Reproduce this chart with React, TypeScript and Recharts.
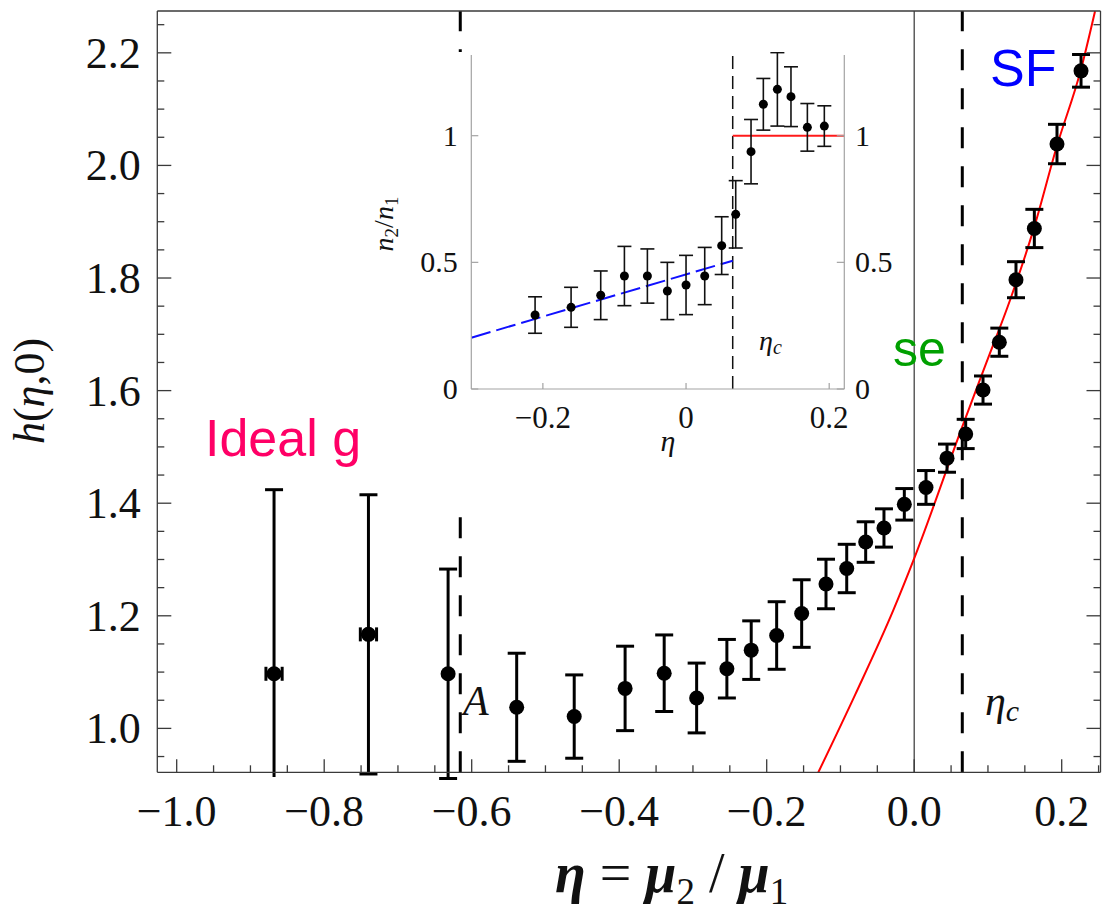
import React from "react";
import {
  ComposedChart,
  Scatter,
  Line,
  XAxis,
  YAxis,
  ErrorBar,
  ReferenceLine,
} from "recharts";

const serif = '"Liberation Serif", "Times New Roman", Times, serif';
const sans = '"Liberation Sans", Arial, Helvetica, sans-serif';

// main panel: h(eta, 0) vs eta
const mainEta = [
  -0.868, -0.74, -0.632, -0.539, -0.461, -0.392, -0.339, -0.295, -0.254, -0.221,
  -0.1865, -0.1526, -0.1196, -0.0915, -0.0658, -0.041, -0.0134, 0.016, 0.0445,
  0.0698, 0.0933, 0.1154, 0.138, 0.1629, 0.1936, 0.2262,
];
const mainH = [
  1.097, 1.167, 1.097, 1.0375, 1.021, 1.071, 1.098, 1.054, 1.106, 1.139, 1.165,
  1.204, 1.2565, 1.284, 1.331, 1.356, 1.398, 1.428, 1.48, 1.523, 1.601, 1.686,
  1.797, 1.888, 2.038, 2.168,
];
const mainErr = [
  0.327, 0.248, 0.186, 0.096, 0.074, 0.075, 0.068, 0.062, 0.052, 0.052, 0.06,
  0.06, 0.044, 0.043, 0.036, 0.034, 0.028, 0.03, 0.025, 0.026, 0.025, 0.025,
  0.032, 0.034, 0.035, 0.029,
];
// horizontal bars only on the two ideal-gas points
const mainEtaErr = [
  0.011, 0.011, 0, 0, 0, 0, 0, 0, 0, 0, 0, 0, 0, 0, 0, 0, 0, 0, 0, 0, 0, 0, 0,
  0, 0, 0,
];

// red theory curve
const fitEta = [-0.13, -0.08, -0.0283, 0, 0.0652, 0.098, 0.13, 0.1615, 0.1936, 0.226, 0.2452];
const fitH = [0.922, 1.06, 1.21, 1.302, 1.536, 1.65, 1.761, 1.885, 2.035, 2.17, 2.274];

const etaA = -0.6155;
const etaC = 0.0652;

const mainXTicks = [
  -1.0, -0.95, -0.9, -0.85, -0.8, -0.75, -0.7, -0.65, -0.6, -0.55, -0.5, -0.45,
  -0.4, -0.35, -0.3, -0.25, -0.2, -0.15, -0.1, -0.05, 0, 0.05, 0.1, 0.15, 0.2, 0.25,
];
const mainYTicks = [
  0.95, 1.0, 1.05, 1.1, 1.15, 1.2, 1.25, 1.3, 1.35, 1.4, 1.45, 1.5, 1.55, 1.6,
  1.65, 1.7, 1.75, 1.8, 1.85, 1.9, 1.95, 2.0, 2.05, 2.1, 2.15, 2.2, 2.25,
];

// inset: n2/n1 vs eta
const insetEta = [
  -0.2109, -0.1606, -0.1192, -0.0861, -0.054, -0.0261, 0, 0.0261, 0.0498, 0.0694,
  0.0908, 0.108, 0.1276, 0.1466, 0.1695, 0.1932,
];
const insetRatio = [
  0.292, 0.3225, 0.37, 0.446, 0.446, 0.387, 0.4106, 0.446, 0.566, 0.6896, 0.937,
  1.124, 1.183, 1.154, 1.033, 1.038,
];
const insetErr = [
  0.072, 0.079, 0.096, 0.117, 0.107, 0.113, 0.117, 0.113, 0.114, 0.133, 0.127,
  0.102, 0.145, 0.118, 0.094, 0.08,
];
const lowEta = [-0.3, 0.0652];
const lowRatio = [0.2026, 0.5066];
const highEta = [0.0652, 0.221];
const highRatio = [1, 1];

const insetXTicks = [-0.2, 0, 0.2];
const insetYTicks = [0, 0.5, 1];

const mainPoints = mainEta.map((x, i) => ({ x, y: mainH[i], ey: mainErr[i], ex: mainEtaErr[i] }));
const fitLine = fitEta.map((x, i) => ({ x, y: fitH[i] }));
const insetPoints = insetEta.map((x, i) => ({ x, y: insetRatio[i], ey: insetErr[i] }));
const lowLine = lowEta.map((x, i) => ({ x, y: lowRatio[i] }));
const highLine = highEta.map((x, i) => ({ x, y: highRatio[i] }));

const AXIS = "#3a3a3a";
const INSET_AXIS = "#a3a3a3";
const TXT = "#111";

const onGrid = (v: number, step: number) => Math.abs(v / step - Math.round(v / step)) < 1e-6;
const fmt = (v: number, d: number) => (v < -1e-9 ? "\u2212" : "") + Math.abs(v).toFixed(d);

function BottomTick({ x, y, payload }: any) {
  const major = onGrid(payload.value, 0.2);
  return (
    <g>
      <line x1={x} x2={x} y1={y} y2={y - (major ? 13 : 7)} stroke={AXIS} strokeWidth={1.3} />
      {major && (
        <text x={x} y={y + 54} textAnchor="middle" fontFamily={serif} fontSize={44} fill={TXT}>
          {fmt(payload.value, 1)}
        </text>
      )}
    </g>
  );
}

function TopTick({ x, y, payload }: any) {
  const major = onGrid(payload.value, 0.2);
  return <line x1={x} x2={x} y1={y} y2={y + (major ? 13 : 7)} stroke={AXIS} strokeWidth={1.3} />;
}

function LeftTick({ x, y, payload }: any) {
  const major = onGrid(payload.value, 0.2);
  return (
    <g>
      <line x1={x} x2={x + (major ? 14 : 7)} y1={y} y2={y} stroke={AXIS} strokeWidth={1.3} />
      {major && (
        <text x={x - 16.6} y={y + 15} textAnchor="end" fontFamily={serif} fontSize={44} fill={TXT}>
          {fmt(payload.value, 1)}
        </text>
      )}
    </g>
  );
}

function RightTick({ x, y, payload }: any) {
  const major = onGrid(payload.value, 0.2);
  return <line x1={x} x2={x - (major ? 14 : 7)} y1={y} y2={y} stroke={AXIS} strokeWidth={1.3} />;
}

const insetLabel = (v: number) => (v === 0 ? "0" : v === 1 ? "1" : fmt(v, 1));

function InsetBottomTick({ x, y, payload }: any) {
  return (
    <g>
      <line x1={x} x2={x} y1={y} y2={y - 6} stroke={INSET_AXIS} strokeWidth={1.2} />
      <text x={x} y={y + 39} textAnchor="middle" fontFamily={serif} fontSize={31} fill={TXT}>
        {insetLabel(payload.value)}
      </text>
    </g>
  );
}

function InsetLeftTick({ x, y, payload }: any) {
  return (
    <g>
      <line x1={x} x2={x + 7} y1={y} y2={y} stroke={INSET_AXIS} strokeWidth={1.2} />
      <text x={x - 13.6} y={y + 10} textAnchor="end" fontFamily={serif} fontSize={30} fill={TXT}>
        {insetLabel(payload.value)}
      </text>
    </g>
  );
}

function InsetRightTick({ x, y, payload }: any) {
  return (
    <g>
      <line x1={x} x2={x - 7.5} y1={y} y2={y} stroke={INSET_AXIS} strokeWidth={1.2} />
      <text x={x + 10.7} y={y + 10} textAnchor="start" fontFamily={serif} fontSize={30} fill={TXT}>
        {insetLabel(payload.value)}
      </text>
    </g>
  );
}

const bigDot = (p: any) => <circle cx={p.cx} cy={p.cy} r={7.5} fill="#000" />;
const smallDot = (p: any) => <circle cx={p.cx} cy={p.cy} r={4.5} fill="#000" />;

function MainChart() {
  return (
    <ComposedChart
      width={1102}
      height={914}
      margin={{ top: 10, left: 156.3, right: 0.5, bottom: 140.7 }}
    >
      <XAxis
        xAxisId="b"
        dataKey="x"
        type="number"
        domain={[-1.0263, 0.2526]}
        allowDataOverflow
        ticks={mainXTicks}
        interval={0}
        height={1}
        tickSize={0}
        tickMargin={0}
        tickLine={false}
        tick={BottomTick}
        axisLine={{ stroke: AXIS, strokeWidth: 1.3 }}
      />
      <XAxis
        xAxisId="t"
        orientation="top"
        type="number"
        domain={[-1.0263, 0.2526]}
        allowDataOverflow
        ticks={mainXTicks}
        interval={0}
        height={1}
        tickSize={0}
        tickMargin={0}
        tickLine={false}
        tick={TopTick}
        axisLine={{ stroke: AXIS, strokeWidth: 1.3 }}
      />
      <YAxis
        yAxisId="l"
        type="number"
        domain={[0.922, 2.2743]}
        allowDataOverflow
        ticks={mainYTicks}
        interval={0}
        width={1}
        tickSize={0}
        tickMargin={0}
        tickLine={false}
        tick={LeftTick}
        axisLine={{ stroke: AXIS, strokeWidth: 1.3 }}
      />
      <YAxis
        yAxisId="r"
        orientation="right"
        type="number"
        domain={[0.922, 2.2743]}
        allowDataOverflow
        ticks={mainYTicks}
        interval={0}
        width={1}
        tickSize={0}
        tickMargin={0}
        tickLine={false}
        tick={RightTick}
        axisLine={{ stroke: AXIS, strokeWidth: 1.3 }}
      />
      <ReferenceLine xAxisId="b" yAxisId="l" x={0} stroke="#444" strokeWidth={1.3} />
      <ReferenceLine xAxisId="b" yAxisId="l" x={etaA} stroke="#000" strokeWidth={3} strokeDasharray="21 18" />
      <ReferenceLine xAxisId="b" yAxisId="l" x={etaC} stroke="#000" strokeWidth={3} strokeDasharray="21 18" />
      <Line
        xAxisId="b"
        yAxisId="l"
        data={fitLine}
        dataKey="y"
        type="monotone"
        stroke="#ff0000"
        strokeWidth={2}
        dot={false}
        isAnimationActive={false}
      />
      <Scatter xAxisId="b" yAxisId="l" data={mainPoints} dataKey="y" shape={bigDot} isAnimationActive={false}>
        <ErrorBar dataKey="ey" direction="y" width={9} strokeWidth={3} stroke="#000" isAnimationActive={false} />
        <ErrorBar dataKey="ex" direction="x" width={7} strokeWidth={3} stroke="#000" isAnimationActive={false} />
      </Scatter>
    </ComposedChart>
  );
}

function InsetChart() {
  return (
    <ComposedChart
      width={513}
      height={453}
      margin={{ top: 3, left: 90.3, right: 47.7, bottom: 115 }}
    >
      <XAxis
        xAxisId="ib"
        dataKey="x"
        type="number"
        domain={[-0.3, 0.2211]}
        allowDataOverflow
        ticks={insetXTicks}
        interval={0}
        height={1}
        tickSize={0}
        tickMargin={0}
        tickLine={false}
        tick={InsetBottomTick}
        axisLine={{ stroke: INSET_AXIS, strokeWidth: 1.2 }}
      />
      <YAxis
        yAxisId="il"
        type="number"
        domain={[0, 1.3186]}
        allowDataOverflow
        ticks={insetYTicks}
        interval={0}
        width={1}
        tickSize={0}
        tickMargin={0}
        tickLine={false}
        tick={InsetLeftTick}
        axisLine={{ stroke: INSET_AXIS, strokeWidth: 1.2 }}
      />
      <YAxis
        yAxisId="ir"
        orientation="right"
        type="number"
        domain={[0, 1.3186]}
        allowDataOverflow
        ticks={insetYTicks}
        interval={0}
        width={1}
        tickSize={0}
        tickMargin={0}
        tickLine={false}
        tick={InsetRightTick}
        axisLine={{ stroke: INSET_AXIS, strokeWidth: 1.2 }}
      />
      <ReferenceLine xAxisId="ib" yAxisId="il" x={etaC} stroke="#111" strokeWidth={1.5} strokeDasharray="13 7" />
      <Line
        xAxisId="ib"
        yAxisId="il"
        data={lowLine}
        dataKey="y"
        type="linear"
        stroke="#1010ff"
        strokeWidth={2}
        strokeDasharray="20 6"
        dot={false}
        isAnimationActive={false}
      />
      <Line
        xAxisId="ib"
        yAxisId="il"
        data={highLine}
        dataKey="y"
        type="linear"
        stroke="#ff1a1a"
        strokeWidth={2}
        dot={false}
        isAnimationActive={false}
      />
      <Scatter xAxisId="ib" yAxisId="il" data={insetPoints} dataKey="y" shape={smallDot} isAnimationActive={false}>
        <ErrorBar dataKey="ey" direction="y" width={7} strokeWidth={1.6} stroke="#111" isAnimationActive={false} />
      </Scatter>
    </ComposedChart>
  );
}

function Overlay() {
  return (
    <svg
      width={1102}
      height={914}
      style={{ position: "absolute", left: 0, top: 0, pointerEvents: "none" }}
    >
      {/* error bar of the first point is cut a few px under the frame, as in the source */}
      <rect x={262} y={777} width={23} height={100} fill="#fff" />

      {/* main axis titles */}
      <text
        transform="translate(44,391) rotate(-90)"
        textAnchor="middle"
        fontFamily={serif}
        fontSize={44}
        fill={TXT}
      >
        <tspan fontStyle="italic">h</tspan>(<tspan fontStyle="italic">η</tspan>,0)
      </text>
      <text x={555} y={892} fontFamily={serif} fontSize={56} fill={TXT}>
        <tspan fontStyle="italic" fontWeight="bold">η</tspan> = <tspan fontStyle="italic" fontWeight="bold">μ</tspan>
        <tspan fontSize={37} dy={12}>2</tspan>
        <tspan dy={-12}> / </tspan>
        <tspan fontStyle="italic" fontWeight="bold">μ</tspan>
        <tspan fontSize={37} dy={12}>1</tspan>
      </text>

      {/* phase labels */}
      <text x={205} y={456} fontFamily={sans} fontSize={52} fill="#ff0066">Ideal g</text>
      <text x={893} y={366} fontFamily={sans} fontSize={50} fill="#00a000">se</text>
      <text x={990} y={86} fontFamily={sans} fontSize={52} fill="#0000ff">SF</text>

      <text x={463} y={715} fontFamily={serif} fontStyle="italic" fontSize={42} fill={TXT}>A</text>
      <text x={985} y={715} fontFamily={serif} fontStyle="italic" fontSize={42} fill={TXT}>
        η<tspan fontSize={30} dy={6}>c</tspan>
      </text>

      {/* inset labels */}
      <text x={759} y={350} fontFamily={serif} fontStyle="italic" fontSize={28} fill={TXT}>
        η<tspan fontSize={20} dy={4}>c</tspan>
      </text>
      <text x={668} y={451} textAnchor="middle" fontFamily={serif} fontStyle="italic" fontSize={30} fill={TXT}>
        η
      </text>
      <text
        transform="translate(393,224) rotate(-90)"
        textAnchor="middle"
        fontFamily={serif}
        fontSize={28}
        fill={TXT}
      >
        <tspan fontStyle="italic">n</tspan>
        <tspan fontSize={19} dy={5}>2</tspan>
        <tspan dy={-5}>/</tspan>
        <tspan fontStyle="italic">n</tspan>
        <tspan fontSize={19} dy={5}>1</tspan>
      </text>
    </svg>
  );
}

export default function App() {
  return (
    <div
      style={{
        position: "absolute",
        left: 0,
        top: 0,
        width: 1102,
        height: 914,
        background: "#fff",
        overflow: "hidden",
      }}
    >
      <MainChart />
      <div
        style={{
          position: "absolute",
          left: 380,
          top: 52,
          width: 513,
          height: 453,
          background: "#fff",
        }}
      >
        <InsetChart />
      </div>
      <Overlay />
    </div>
  );
}
